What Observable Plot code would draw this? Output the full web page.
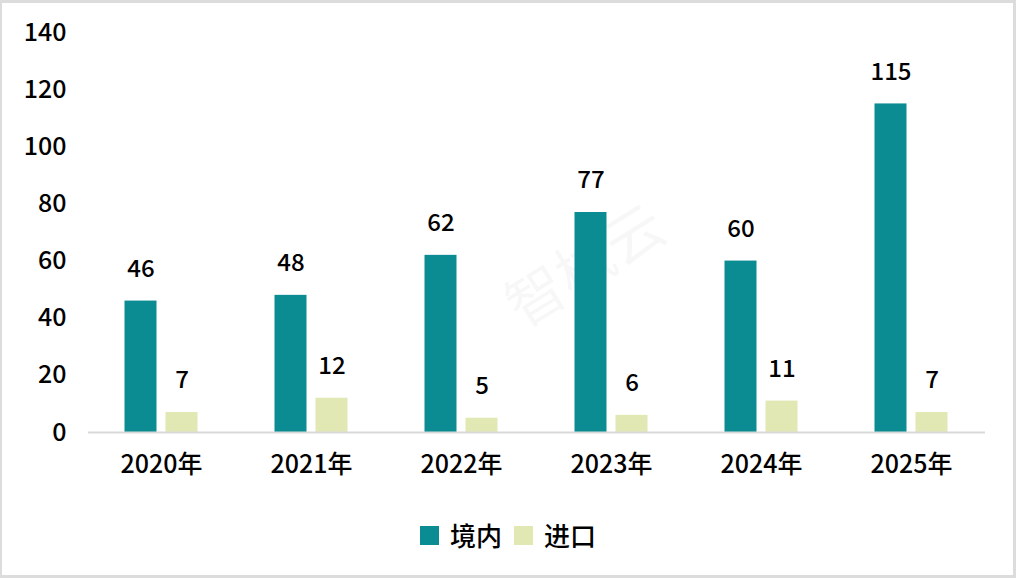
<!DOCTYPE html>
<html><head><meta charset="utf-8">
<script src="https://cdn.jsdelivr.net/npm/d3@7"></script>
<script src="https://cdn.jsdelivr.net/npm/@observablehq/plot@0.6"></script>
<style>
body{margin:0;background:#fff;font-family:"Noto Sans CJK SC","Noto Sans",sans-serif;}
#wrap{position:relative;width:1016px;height:578px;overflow:hidden;background:#fff;}
#chart{position:absolute;left:0;top:0;}
#frame{position:absolute;left:0;top:0;width:1016px;height:578px;box-sizing:border-box;border:3px solid #dcdcdc;border-left-width:2px;pointer-events:none;}
#legend{position:absolute;top:515px;left:0;width:1016px;display:flex;justify-content:center;align-items:center;font-size:26px;font-weight:500;color:#000;line-height:40px;}
.item{display:flex;align-items:center;margin:0 6px;}
.sw{width:19px;height:19px;margin-right:11px;}
</style>
</head><body>
<div id="wrap"><div id="chart"></div><div id="legend"></div><div id="frame"></div></div>
<script>
const years = ["2020年","2021年","2022年","2023年","2024年","2025年"];
const domestic = [46,48,62,77,60,115];
const imported = [7,12,5,6,11,7];
const seriesNames = ["境内","进口"];
const colors = ["#0A8C92","#E2E8B4"];
const yTicks = [0,20,40,60,80,100,120,140];
const watermark = "智械云";

const domRows = years.map((y,i)=>({year:y, series:seriesNames[0], value:domestic[i]}));
const impRows = years.map((y,i)=>({year:y, series:seriesNames[1], value:imported[i]}));

const font = '"Noto Sans CJK SC","Noto Sans",sans-serif';
const plot = Plot.plot({
  width:1016, height:500,
  marginTop:32, marginBottom:68, marginLeft:86, marginRight:30,
  x:{domain:years, padding:0},
  y:{domain:[0,140]},
  style:{fontFamily:font, color:"#000", background:"transparent"},
  marks:[
    Plot.text([watermark], {frameAnchor:"middle", text:d=>d, dx:50, dy:35, rotate:-32, fontSize:58, fill:"#000", fillOpacity:0.03}),
    Plot.axisY({ticks:yTicks, tickSize:0, tickPadding:20, label:null, fontSize:25, fontWeight:500}),
    Plot.axisX({tickSize:0, tickPadding:23, label:null, fontSize:25, fontWeight:500}),
    Plot.barY(domRows, {x:"year", y:"value", fill:colors[0], insetLeft:38.5, insetRight:79.5}),
    Plot.barY(impRows, {x:"year", y:"value", fill:colors[1], insetLeft:79.5, insetRight:38.5}),
    Plot.ruleY([0], {stroke:"#d9d9d9", strokeWidth:2, insetLeft:2, insetRight:1}),
    Plot.text(domRows, {x:"year", y:"value", text:d=>String(d.value), dx:-20.5, dy:-32, fontSize:24, fontWeight:500, lineAnchor:"middle", fill:"#000"}),
    Plot.text(impRows, {x:"year", y:"value", text:d=>String(d.value), dx:20.5, dy:-32, fontSize:24, fontWeight:500, lineAnchor:"middle", fill:"#000"})
  ]
});
document.getElementById("chart").appendChild(plot);

const legend = document.getElementById("legend");
seriesNames.forEach((n,i)=>{
  const it = document.createElement("div"); it.className="item";
  const sw = document.createElement("div"); sw.className="sw"; sw.style.background=colors[i];
  const tx = document.createElement("span"); tx.textContent=n;
  it.appendChild(sw); it.appendChild(tx); legend.appendChild(it);
});
</script>
</body></html>
